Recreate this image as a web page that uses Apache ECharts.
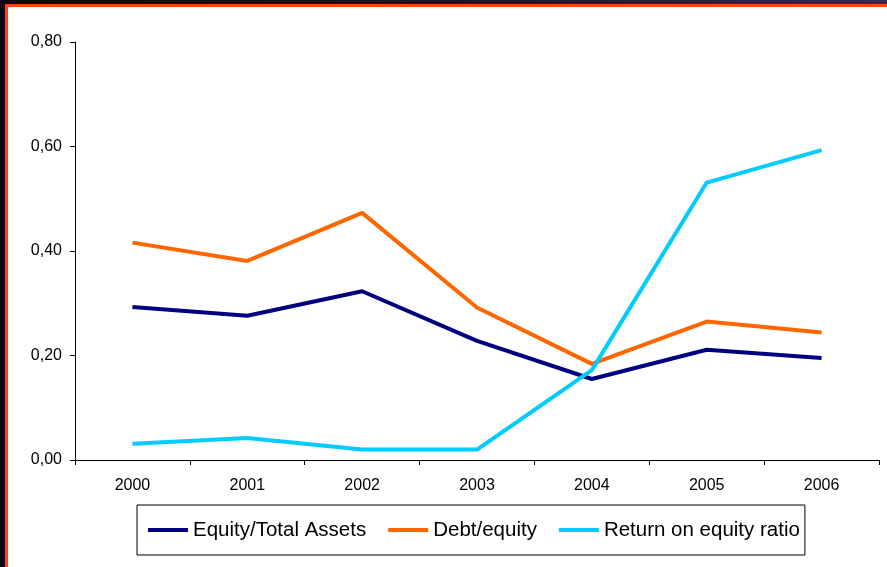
<!DOCTYPE html>
<html>
<head>
<meta charset="utf-8">
<script src="https://cdn.jsdelivr.net/npm/echarts@6/dist/echarts.min.js"></script>
<style>
html, body { margin: 0; padding: 0; width: 887px; height: 567px; overflow: hidden; }
body { background: linear-gradient(to right, #07071a 0%, #14143a 50%, #2b2a6c 100%); position: relative; }
#frame { position: absolute; left: 5px; top: 4px; right: 0; bottom: 0; border-left: 3px solid #fe4416; border-top: 3px solid #fe4416; background: #fff; }
#chart_main { position: absolute; left: 8px; top: 7px; width: 879px; height: 560px; }
</style>
</head>
<body>
<div id="frame"></div>
<div id="chart_main"></div>
<script>
// data
var years = ['2000', '2001', '2002', '2003', '2004', '2005', '2006'];
var equityTotalAssets = [0.293, 0.276, 0.323, 0.228, 0.155, 0.211, 0.195];
var debtEquity = [0.416, 0.381, 0.473, 0.292, 0.184, 0.265, 0.244];
var returnOnEquity = [0.031, 0.042, 0.020, 0.020, 0.172, 0.531, 0.593];
var yTicks = [0, 0.2, 0.4, 0.6, 0.8];

var chart = echarts.init(document.getElementById('chart_main'));

function lineSeries(name, data, color) {
	return {
		name: name,
		type: 'line',
		data: data,
		symbol: 'none',
		color: color,
		lineStyle: { width: 4, color: color },
		itemStyle: { color: color },
		animation: false
	};
}

var option = {
	backgroundColor: 'transparent',
	textStyle: { fontFamily: 'Liberation Sans, Arial, sans-serif' },
	grid: { left: 67, top: 35, right: 8, bottom: 107 },
	legend: {
		left: 129,
		top: 498,
		icon: 'rect',
		itemWidth: 40,
		itemHeight: 4,
		itemGap: 22,
		padding: [14, 5, 14, 11],
		borderColor: '#000',
		borderWidth: 1,
		textStyle: { fontSize: 20.5, color: '#000', lineHeight: 22 },
		data: ['Equity/Total Assets', 'Debt/equity', 'Return on equity ratio']
	},
	xAxis: {
		type: 'category',
		data: years,
		boundaryGap: true,
		axisLine: { lineStyle: { color: '#000', width: 1 } },
		axisTick: { show: true, interval: 0, length: 5, lineStyle: { color: '#000' } },
		axisLabel: { fontSize: 16, color: '#000', margin: 18 },
		splitLine: { show: false }
	},
	yAxis: {
		type: 'value',
		min: yTicks[0],
		max: yTicks[yTicks.length - 1],
		interval: 0.2,
		axisLine: { show: true, lineStyle: { color: '#000', width: 1 } },
		axisTick: { show: true, length: 5, lineStyle: { color: '#000' } },
		axisLabel: {
			fontSize: 16, color: '#000', margin: 13,
			formatter: function (v) { return v.toFixed(2).replace('.', ','); }
		},
		splitLine: { show: false }
	},
	series: [
		lineSeries('Equity/Total Assets', equityTotalAssets, '#000080'),
		lineSeries('Debt/equity', debtEquity, '#ff6600'),
		lineSeries('Return on equity ratio', returnOnEquity, '#00ccff')
	]
};
chart.setOption(option);
</script>
</body>
</html>
